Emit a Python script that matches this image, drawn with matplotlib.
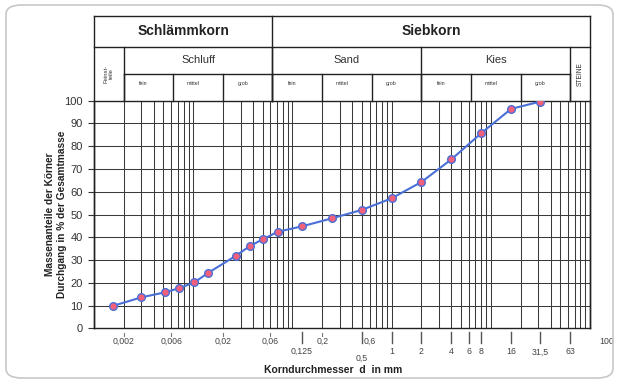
import matplotlib
matplotlib.use("Agg")
import matplotlib.pyplot as plt
from matplotlib.patches import FancyBboxPatch
import numpy as np

plt.rcParams["font.family"] = ["Liberation Sans", "DejaVu Sans"]

# grain size curve (d in mm, passing in %)
diameters = [0.00154, 0.0030, 0.0052, 0.0072, 0.0103, 0.0142, 0.0268, 0.0374,
             0.0509, 0.071, 0.125, 0.25, 0.5, 1.0, 2.0, 4.0, 8.0, 16.0, 31.5]
passing = [9.8, 13.6, 15.8, 17.6, 20.2, 24.4, 31.8, 36.2,
           39.2, 42.4, 44.8, 48.3, 52.0, 57.1, 64.3, 74.2, 85.7, 96.4, 99.6]

# x axis labels below the chart
size_ticks = [0.002, 0.006, 0.02, 0.06, 0.125, 0.2, 0.5, 0.6, 1, 2, 4, 6, 8, 16, 31.5, 63]
size_labels = ["0,002", "0,006", "0,02", "0,06", "0,125", "0,2", "0,5", "0,6",
               "1", "2", "4", "6", "8", "16", "31,5", "63"]

# header classification table
main_groups = ["Schlämmkorn", "Siebkorn"]
main_bounds = [0.001, 0.063, 100]
soil_groups = ["Schluff", "Sand", "Kies"]
soil_bounds = [0.002, 0.063, 2, 63]
sub_groups = ["fein", "mittel", "grob"]
sub_bounds = [0.002, 0.0063, 0.02, 0.063, 0.2, 0.63, 2, 6.3, 20, 63]

W, H = 619, 383
fig = plt.figure(figsize=(W / 100, H / 100), dpi=100)
fig.patch.set_facecolor("white")

# rounded outer frame
frame = FancyBboxPatch((6 / W, 5 / H), 607 / W, 373 / H,
                       boxstyle="round,pad=0,rounding_size=0.025",
                       transform=fig.transFigure, fill=False,
                       edgecolor="#c8c8c8", linewidth=1.2)
fig.patches.append(frame)

ax = fig.add_axes([94 / W, (H - 328.3) / H, (590 - 94) / W, (328.3 - 100.7) / H])
ax.set_xscale("log")
ax.set_xlim(0.001, 100)
ax.set_ylim(0, 100)

grid_kw = dict(color="#3a3a3a", linewidth=0.75)
for dec in [0.001, 0.01, 0.1, 1, 10]:
    for m in range(1, 10):
        ax.axvline(dec * m, **grid_kw)
for yv in range(10, 100, 10):
    ax.axhline(yv, **grid_kw)
for s in ax.spines.values():
    s.set_color("#222222")
    s.set_linewidth(1.0)

ax.set_yticks(np.arange(0, 101, 10))
ax.set_yticklabels([str(v) for v in range(0, 101, 10)], fontsize=8, color="#333333")
ax.tick_params(axis="y", length=4, color="#333333", pad=4)
ax.set_xticks([])
ax.set_xticks([], minor=True)

ax.plot(diameters, passing, color="#4a6fd6", linewidth=1.5, marker="o",
        markersize=5.5, markerfacecolor="#f2607c", markeredgecolor="#4a6fd6",
        markeredgewidth=1.0, zorder=5)

# header table drawn above the plot (y in data units above 100)
y_top, y_r1, y_r2, y_r3 = 137.2, 123.7, 111.7, 100.0
line_kw = dict(color="#222222", linewidth=1.0, clip_on=False)
ax.plot([0.001, 100], [y_top, y_top], **line_kw)
ax.plot([0.001, 100], [y_r1, y_r1], **line_kw)
ax.plot([0.002, 63], [y_r2, y_r2], **line_kw)
ax.plot([0.001, 0.001], [0, y_top], **line_kw)
ax.plot([100, 100], [0, y_top], **line_kw)
ax.plot([0.063, 0.063], [y_r3, y_top], **line_kw)
for b in soil_bounds:
    ax.plot([b, b], [y_r3, y_r1], **line_kw)
for b in sub_bounds:
    ax.plot([b, b], [y_r3, y_r2], **line_kw)


def gmid(a, b, f=0.5):
    return 10 ** (np.log10(a) + f * (np.log10(b) - np.log10(a)))


for i, name in enumerate(main_groups):
    ax.text(gmid(main_bounds[i], main_bounds[i + 1]), (y_top + y_r1) / 2, name,
            ha="center", va="center", fontsize=10, fontweight="bold",
            color="#222222", clip_on=False)
for i, name in enumerate(soil_groups):
    ax.text(gmid(soil_bounds[i], soil_bounds[i + 1]), (y_r1 + y_r2) / 2, name,
            ha="center", va="center", fontsize=8, color="#333333", clip_on=False)
for i in range(len(sub_bounds) - 1):
    ax.text(gmid(sub_bounds[i], sub_bounds[i + 1], 0.4), 107.4, sub_groups[i % 3],
            ha="center", va="center", fontsize=3.8, color="#333333", clip_on=False)
ax.text(gmid(0.001, 0.002), (y_r1 + y_r3) / 2, "Feinst-\nteile", rotation=90,
        ha="center", va="center", fontsize=4.2, color="#333333",
        linespacing=1.0, clip_on=False)
ax.text(gmid(63, 100), (y_r1 + y_r3) / 2, "STEINE", rotation=90,
        ha="center", va="center", fontsize=4.8, color="#333333", clip_on=False)

# x labels below the axis (staggered like the original sheet)
lower_row = {0.125: 351, 0.5: 358}
upper_row = {0.002, 0.006, 0.02, 0.06, 0.2, 0.6}


def py(pix):
    return (328.3 - pix) / 2.276


for v, lab in zip(size_ticks, size_labels):
    if v in upper_row:
        ypix = 341
        if v != 0.6:
            ax.plot([v, v], [py(333), py(336)], color="#777777", lw=0.8, clip_on=False)
    else:
        ypix = lower_row.get(v, 352)
        ax.plot([v, v], [py(332), py(343)], color="#555555", lw=1.0, clip_on=False)
    ax.text(v, py(ypix), lab, ha="center", va="center", fontsize=6.3,
            color="#444444", clip_on=False)
ax.annotate("100", xy=(100, py(341)), xytext=(12, 0), textcoords="offset points",
            ha="center", va="center", fontsize=6.3, color="#444444",
            annotation_clip=False)

fig.text(0.5 * (262 + 404) / W, 1 - 370 / H, "Korndurchmesser  d  in mm",
         ha="center", va="center", fontsize=7.5, fontweight="bold", color="#222222")
fig.text(56 / W, 1 - 214 / H,
         "Massenanteile der Körner\nDurchgang in % der Gesamtmasse",
         rotation=90, ha="center", va="center", fontsize=7.3, fontweight="bold",
         color="#222222", linespacing=1.25, multialignment="center")

fig.savefig("out.png", dpi=100)
